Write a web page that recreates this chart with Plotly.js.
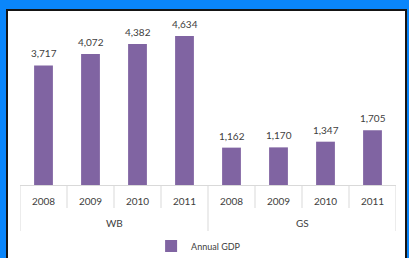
<!DOCTYPE html>
<html>
<head>
<meta charset="utf-8">
<script src="https://cdn.plot.ly/plotly-3.0.1.min.js"></script>
<style>
html,body{margin:0;padding:0;background:#0a86fb;width:409px;height:258px;overflow:hidden;}
#frame{position:absolute;left:6px;top:9px;width:401px;height:260px;box-sizing:border-box;border:2px solid #151515;background:#fff;}
#chart{position:absolute;left:0;top:0;width:409px;height:258px;}
</style>
</head>
<body>
<div id="frame"></div>
<div id="chart"></div>
<script>
var groups = ['WB','WB','WB','WB','GS','GS','GS','GS'];
var years = ['2008','2009','2010','2011','2008','2009','2010','2011'];
var gdp = [3717, 4072, 4382, 4634, 1162, 1170, 1347, 1705];
var seriesName = 'Annual GDP';

var FONT = 'Lato, sans-serif';
var TXT = '#404040';
var LINE = '#d9d9d9';

var idx = years.map(function(_, i){ return i; });

var trace = {
  type: 'bar',
  name: seriesName,
  x: idx,
  y: gdp,
  marker: {color: '#8064a2'},
  width: 0.4,
  showlegend: true,
  hoverinfo: 'none'
};

var shapes = [];
var plotH = 165;
for (var b = 0; b <= years.length; b++) {
  var isGroupEdge = (b === 0 || b === years.length || groups[b] !== groups[b-1]);
  shapes.push({type: 'line', xref: 'x', yref: 'paper',
    x0: b - 0.5, x1: b - 0.5, y0: 0, y1: isGroupEdge ? -46/plotH : -23/plotH,
    line: {color: LINE, width: 1}});
}

var annotations = gdp.map(function(v, i){
  return {x: i, y: v, xref: 'x', yref: 'y', text: v.toLocaleString('en-US'),
    showarrow: false, yanchor: 'bottom', yshift: 4,
    font: {family: FONT, size: 10, color: TXT}};
});
var uniqueGroups = [];
groups.forEach(function(g){ if (uniqueGroups.indexOf(g) < 0) uniqueGroups.push(g); });
uniqueGroups.forEach(function(g){
  var members = idx.filter(function(i){ return groups[i] === g; });
  var c = (members[0] + members[members.length-1]) / 2;
  annotations.push({x: c, y: -38/plotH, xref: 'x', yref: 'paper', text: g,
    showarrow: false, yanchor: 'middle', font: {family: FONT, size: 10, color: TXT}});
});

var layout = {
  width: 409, height: 258,
  margin: {l: 20, r: 13, t: 20, b: 73},
  paper_bgcolor: 'rgba(0,0,0,0)',
  plot_bgcolor: 'rgba(0,0,0,0)',
  font: {family: FONT, size: 10, color: TXT},
  xaxis: {
    range: [-0.5, years.length - 0.5],
    tickvals: idx, ticktext: years,
    showline: true, linecolor: LINE, linewidth: 1,
    ticks: '', showgrid: false, zeroline: false,
    tickfont: {family: FONT, size: 10, color: TXT},
    ticklabelstandoff: 7,
    automargin: false
  },
  yaxis: {
    range: [0, 5130], visible: false, showgrid: false, zeroline: false, automargin: false
  },
  shapes: shapes,
  annotations: annotations,
  showlegend: true,
  legend: {orientation: 'h', xref: 'paper', x: 0.475, xanchor: 'center',
           yref: 'container', y: 12/258, yanchor: 'middle',
           font: {family: FONT, size: 9, color: TXT}, itemwidth: 30}
};

Plotly.newPlot('chart', [trace], layout, {displayModeBar: false, staticPlot: true});
</script>
</body>
</html>
